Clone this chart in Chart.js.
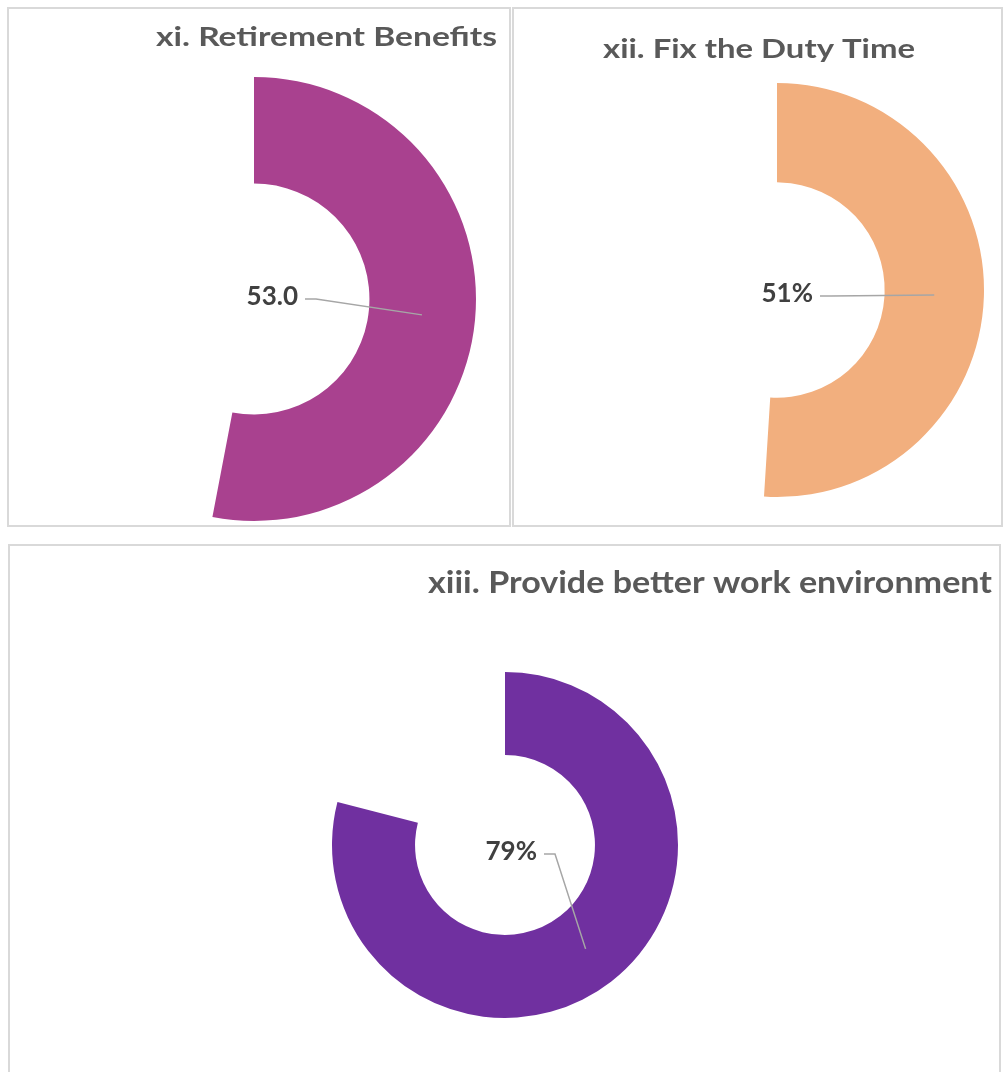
<!DOCTYPE html>
<html>
<head>
<meta charset="utf-8">
<script src="https://cdn.jsdelivr.net/npm/chart.js@4/dist/chart.umd.min.js"></script>
<style>
    html, body {
        margin: 0;
        padding: 0;
        background: #ffffff;
        overflow: hidden;
    }
    .panel {
        position: absolute;
        box-sizing: border-box;
        border: 2px solid #d9d9d9;
        background: #ffffff;
    }
    .panel canvas {
        display: block;
    }
</style>
</head>
<body>
<div class="panel" id="panel-retirement" style="left:7px;top:7px;width:504px;height:520px;">
    <canvas id="retirementChart"></canvas>
</div>
<div class="panel" id="panel-duty" style="left:512px;top:7px;width:491px;height:520px;">
    <canvas id="dutyChart"></canvas>
</div>
<div class="panel" id="panel-environment" style="left:8px;top:544px;width:993px;height:540px;">
    <canvas id="environmentChart"></canvas>
</div>

<script>
// Survey items and the share of respondents for each.
const titles = ['xi. Retirement Benefits', 'xii. Fix the Duty Time', 'xiii. Provide better work environment'];
const shares = [53.0, 51, 79];
const valueLabels = ['53.0', '51%', '79%'];
const sliceColours = ['#A9418F', '#F2AF7E', '#7030A0'];

// Per-panel geometry (canvas pixels): ring centre and radius, title anchor, label anchor.
const layouts = [
    { canvasId: 'retirementChart', width: 500, height: 516, cx: 245, cy: 290, r: 222,
      title: { right: 488, baseline: 37, width: 341, size: 26 },
      label: { dx: 44, dy: -2 } },
    { canvasId: 'dutyChart', width: 487, height: 516, cx: 263, cy: 281, r: 207,
      title: { right: 401, baseline: 49, width: 312, size: 27 },
      label: { dx: 36, dy: 4 } },
    { canvasId: 'environmentChart', width: 989, height: 536, cx: 495, cy: 299, r: 173,
      title: { right: 982, baseline: 47, width: 564, size: 30 },
      label: { dx: 32, dy: 7 } }
];

function areaPadding(layout) {
    return {
        left: layout.cx - layout.r,
        top: layout.cy - layout.r,
        right: layout.width - (layout.cx + layout.r),
        bottom: layout.height - (layout.cy + layout.r)
    };
}

// Right-aligned title, stretched or squeezed to a fixed width.
const panelTitle = {
    id: 'panelTitle',
    afterDraw(chart, args, opts) {
        const { ctx } = chart;
        ctx.save();
        ctx.font = `bold ${opts.size}px Lato, "Open Sans", sans-serif`;
        ctx.fillStyle = '#595959';
        ctx.textBaseline = 'alphabetic';
        const natural = ctx.measureText(opts.text).width;
        const scaleX = opts.width / natural;
        ctx.translate(opts.right - opts.width, opts.baseline);
        ctx.scale(scaleX, 1);
        ctx.fillText(opts.text, 0, 0);
        ctx.restore();
    }
};

// Value label near the hole with a leader line to the middle of the filled arc.
const leaderLabel = {
    id: 'leaderLabel',
    afterDatasetsDraw(chart, args, opts) {
        const arc = chart.getDatasetMeta(0).data[0];
        if (!arc) {
            return;
        }
        const { x, y, startAngle, endAngle, innerRadius, outerRadius } = arc.getProps(
            ['x', 'y', 'startAngle', 'endAngle', 'innerRadius', 'outerRadius'], true);
        const mid = (startAngle + endAngle) / 2;
        const rMid = (innerRadius + outerRadius) / 2;
        const tx = x + Math.cos(mid) * rMid;
        const ty = y + Math.sin(mid) * rMid;

        const labelRight = x + opts.dx;
        const labelY = y + opts.dy;
        const { ctx } = chart;
        ctx.save();
        ctx.strokeStyle = '#a6a6a6';
        ctx.lineWidth = 1.5;
        ctx.beginPath();
        ctx.moveTo(labelRight + 7, labelY + 2);
        ctx.lineTo(labelRight + 18, labelY + 2);
        ctx.lineTo(tx, ty);
        ctx.stroke();

        ctx.font = 'bold 26px Lato, "Open Sans", sans-serif';
        ctx.fillStyle = '#404040';
        ctx.textAlign = 'right';
        ctx.textBaseline = 'middle';
        ctx.fillText(opts.text, labelRight, labelY);
        ctx.restore();
    }
};

layouts.forEach((layout, i) => {
    const canvas = document.getElementById(layout.canvasId);
    canvas.style.width = layout.width + 'px';
    canvas.style.height = layout.height + 'px';

    new Chart(canvas.getContext('2d'), {
        type: 'doughnut',
        data: {
            labels: [titles[i], ''],
            datasets: [{
                data: [shares[i], 100 - shares[i]],
                backgroundColor: [sliceColours[i], 'rgba(0,0,0,0)'],
                borderWidth: 0,
                hoverOffset: 0
            }]
        },
        options: {
            responsive: false,
            animation: false,
            events: [],
            cutout: '52%',
            rotation: 0,
            circumference: 360,
            layout: {
                padding: areaPadding(layout)
            },
            plugins: {
                legend: { display: false },
                tooltip: { enabled: false },
                title: { display: false },
                panelTitle: { text: titles[i], ...layout.title },
                leaderLabel: { text: valueLabels[i], ...layout.label }
            }
        },
        plugins: [panelTitle, leaderLabel]
    });
});
</script>
</body>
</html>
